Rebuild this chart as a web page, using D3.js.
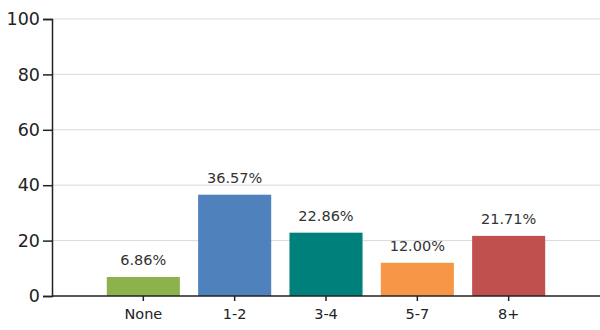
<!DOCTYPE html>
<html><head><meta charset="utf-8">
<script src="https://cdn.jsdelivr.net/npm/d3@7"></script>
<style>body{margin:0;background:#fff}svg{display:block}</style>
</head><body><svg id="c" width="600" height="330"></svg>
<script>
const categories = ["None", "1-2", "3-4", "5-7", "8+"];
const values = [6.86, 36.57, 22.86, 12.00, 21.71];
const labels = ["6.86%", "36.57%", "22.86%", "12.00%", "21.71%"];
const colors = ["#8db14b", "#4f81bd", "#00807a", "#f79646", "#c0504d"];
const yTicks = [0, 20, 40, 60, 80, 100];

(function () {
const svg = d3.select("#c");
const font = "DejaVu Sans, sans-serif";
const mLeft = 52, mRight = 600, mTop = 19, mBottom = 296;
const step = (mRight - mLeft) / 6;
const x = d3.scaleBand().domain(categories).range([mLeft + step/2, mRight - step/2]).paddingInner(0.2).paddingOuter(0.1);
const y = d3.scaleLinear().domain([0, 100]).range([mBottom, mTop]);

svg.append("g").selectAll("line").data(yTicks.filter(d => d > 0)).join("line")
  .attr("x1", mLeft).attr("x2", mRight).attr("y1", d => y(d)).attr("y2", d => y(d))
  .attr("stroke", "#d9d9d9").attr("stroke-width", 1);

svg.append("g").selectAll("rect").data(values).join("rect")
  .attr("x", (d, i) => x(categories[i])).attr("width", x.bandwidth())
  .attr("y", d => y(d)).attr("height", d => mBottom - y(d))
  .attr("fill", (d, i) => colors[i]);

svg.append("g").selectAll("text").data(values).join("text")
  .attr("x", (d, i) => x(categories[i]) + x.bandwidth()/2)
  .attr("y", d => y(d) - 12)
  .attr("text-anchor", "middle")
  .attr("font-family", font).attr("font-size", 14.5)
  .attr("fill", "#333").text((d, i) => labels[i]);

const ya = svg.append("g").attr("transform", `translate(${mLeft},0)`)
  .call(d3.axisLeft(y).tickValues(yTicks).tickSize(9).tickPadding(3));
ya.select(".domain").attr("stroke", "#222").attr("stroke-width", 1.5);
ya.selectAll(".tick line").attr("stroke", "#222").attr("stroke-width", 1.5);
ya.selectAll("text").attr("font-family", font).attr("font-size", 17.5).attr("fill", "#222");

const xa = svg.append("g").attr("transform", `translate(0,${mBottom})`)
  .call(d3.axisBottom(x).tickSize(5).tickPadding(8).tickSizeOuter(0));
xa.select(".domain").attr("d", `M${mLeft},0H${mRight}`).attr("stroke", "#222").attr("stroke-width", 1.5);
xa.selectAll(".tick line").attr("stroke", "#222").attr("stroke-width", 1.5);
xa.selectAll("text").attr("font-family", font).attr("font-size", 14.5).attr("fill", "#222");
})();
</script></body></html>
